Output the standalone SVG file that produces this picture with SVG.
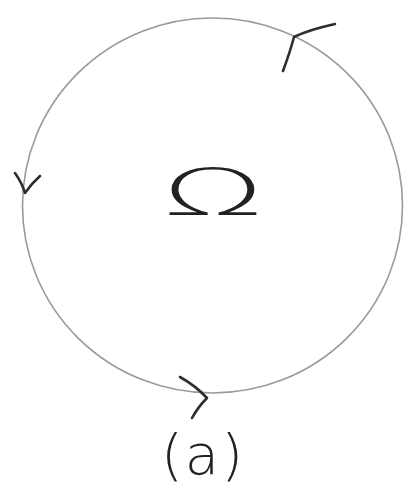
<svg xmlns="http://www.w3.org/2000/svg" width="410" height="489" viewBox="0 0 410 489">
<style>
.ring{fill:none;stroke:#9a9a9a;stroke-width:1.6}
.arrow{fill:none;stroke:#2e2e2e;stroke-width:2.6;stroke-linecap:round;stroke-linejoin:round}
.lbl{font-family:"DejaVu Sans","Liberation Sans",sans-serif;fill:#222}
</style>
<rect width="410" height="489" fill="#fff"/>
<g id="region">
<ellipse class="ring" cx="212.5" cy="205.5" rx="190" ry="187.5"/>
</g>
<g id="connectors">
<path class="arrow" d="M335,24 Q308,30 294,37 Q290,52 283,71"/>
<path class="arrow" d="M15,173 Q22,183 25,193 Q31,184 40,176"/>
<path class="arrow" d="M180,377 Q196,386 207,398 Q198,407 192,418"/>
</g>
<g id="omega">
<text class="lbl" transform="translate(213,215) scale(2.3,1.1)" text-anchor="middle" font-size="58" font-weight="200">Ω</text>
</g>
<g id="caption">
<text class="lbl" x="203" y="474" text-anchor="middle" font-size="56" font-weight="300" letter-spacing="2">(a)</text>
</g>
</svg>
